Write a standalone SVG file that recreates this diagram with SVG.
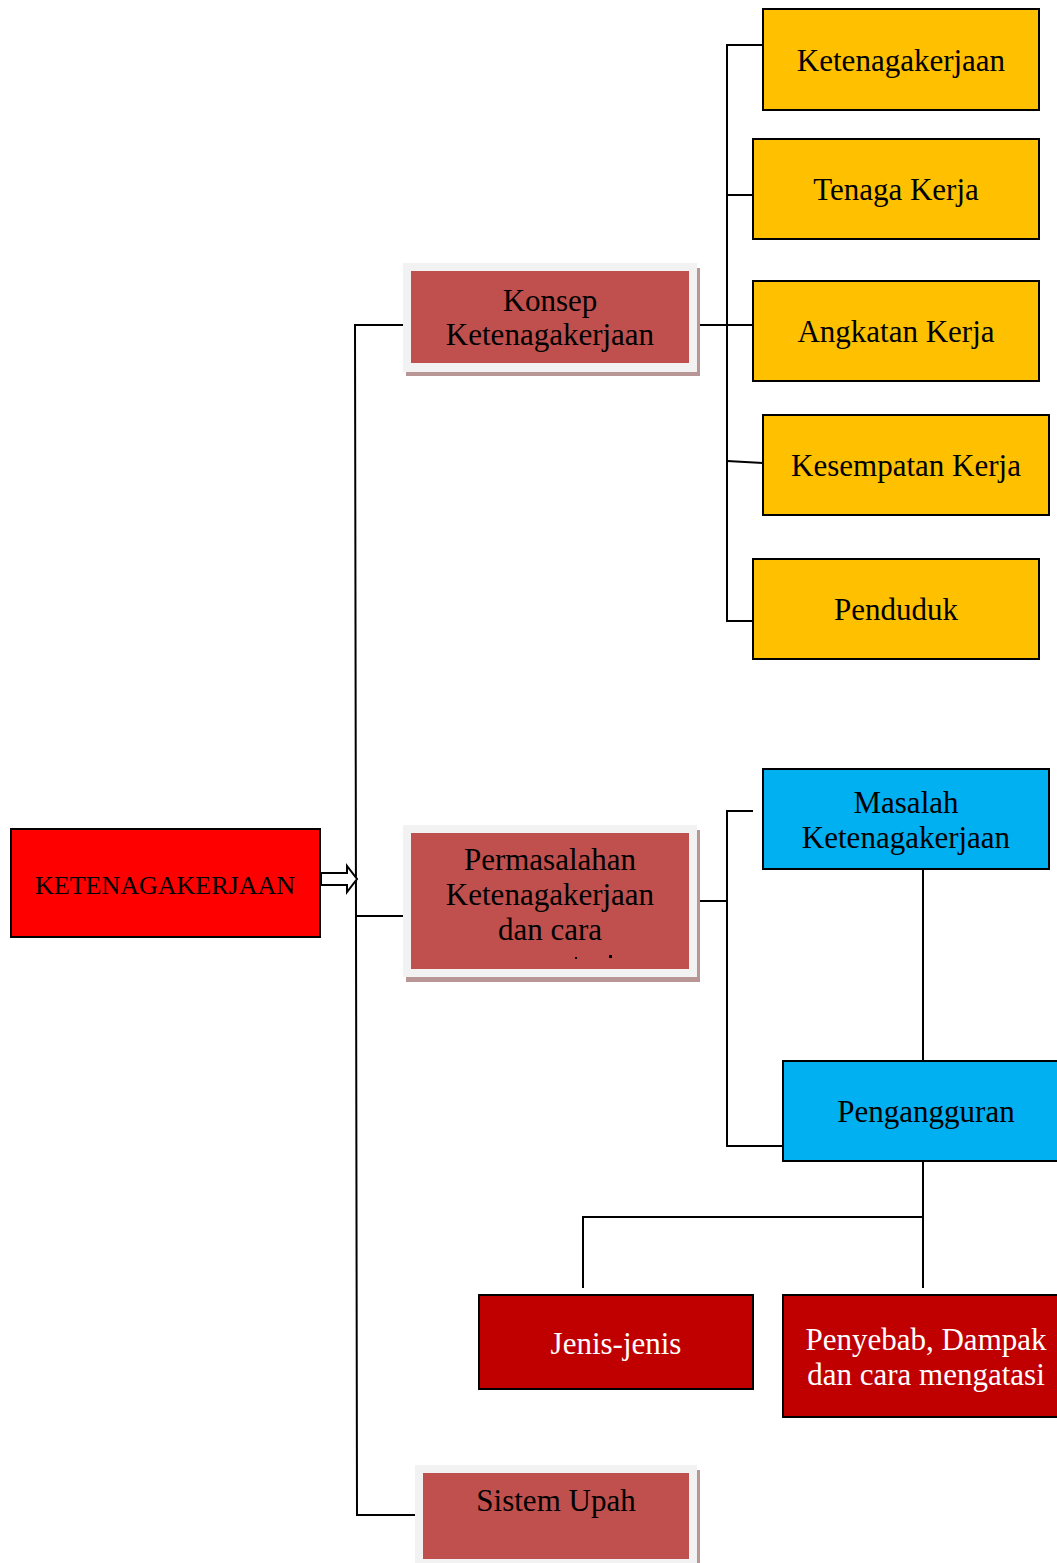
<svg xmlns="http://www.w3.org/2000/svg" width="1057" height="1563" viewBox="0 0 1057 1563">
<style>
text{font-family:"Liberation Serif","Times New Roman",serif;font-size:31px;text-anchor:middle;fill:#000}
.w{fill:#fff}
.yl{fill:#FFC000;stroke:#000;stroke-width:2}
.bl{fill:#00B0F0;stroke:#000;stroke-width:2}
.dr{fill:#C00000;stroke:#000;stroke-width:2}
.outer{fill:#F2F2F2}
.inner{fill:#C0504D}
.shadow{fill:#B89696}
.ln{fill:none;stroke:#000;stroke-width:2}
</style>
<rect width="1057" height="1563" fill="#fff"/>
<g id="connectors">
<path class="ln" d="M403,325 H355 L357,1515 H418"/>
<path class="ln" d="M357,916 H403"/>
<path class="ln" d="M697,325 H753"/>
<path class="ln" d="M763,45 H727 V621 H753"/>
<path class="ln" d="M727,195 H753"/>
<path class="ln" d="M727,461 L763,463"/>
<path class="ln" d="M693,901 H727"/>
<path class="ln" d="M753,811 H727 V1146 H783"/>
<path class="ln" d="M923,869 V1061"/>
<path class="ln" d="M923,1161 V1288"/>
<path class="ln" d="M583,1288 V1217 H923"/>
<path fill="#fff" stroke="#000" stroke-width="2" d="M321,873 H347 V866 L357,879 L347,892 V885 H321 Z"/>
</g>
<g id="n-root">
<rect x="11" y="829" width="309" height="108" fill="#FF0000" stroke="#000" stroke-width="2"/>
<text x="165" y="894" style="font-size:26px">KETENAGAKERJAAN</text>
</g>
<g id="n-konsep">
<rect class="shadow" x="406" y="268" width="294" height="108"/>
<rect class="outer" x="403" y="263" width="294" height="109"/>
<rect class="inner" x="411" y="271" width="278" height="92"/>
<text x="550" y="311">Konsep</text>
<text x="550" y="345">Ketenagakerjaan</text>
</g>
<g id="n-permasalahan">
<rect class="shadow" x="406" y="830" width="294" height="152"/>
<rect class="outer" x="403" y="825" width="294" height="152"/>
<rect class="inner" x="411" y="833" width="278" height="136"/>
<text x="550" y="870">Permasalahan</text>
<text x="550" y="905">Ketenagakerjaan</text>
<text x="550" y="940">dan cara</text>
<rect x="575" y="957" width="2" height="2" fill="#000"/>
<rect x="609" y="955" width="3" height="3" fill="#000"/>
</g>
<g id="n-upah">
<rect class="shadow" x="418" y="1470" width="282" height="93"/>
<rect class="outer" x="415" y="1465" width="282" height="98"/>
<rect class="inner" x="423" y="1473" width="266" height="86"/>
<text x="556" y="1511">Sistem Upah</text>
</g>
<g id="n-ketenagakerjaan">
<rect class="yl" x="763" y="9" width="276" height="101"/>
<text x="901" y="71">Ketenagakerjaan</text>
</g>
<g id="n-tenaga">
<rect class="yl" x="753" y="139" width="286" height="100"/>
<text x="896" y="200">Tenaga Kerja</text>
</g>
<g id="n-angkatan">
<rect class="yl" x="753" y="281" width="286" height="100"/>
<text x="896" y="342">Angkatan Kerja</text>
</g>
<g id="n-kesempatan">
<rect class="yl" x="763" y="415" width="286" height="100"/>
<text x="906" y="476">Kesempatan Kerja</text>
</g>
<g id="n-penduduk">
<rect class="yl" x="753" y="559" width="286" height="100"/>
<text x="896" y="620">Penduduk</text>
</g>
<g id="n-masalah">
<rect class="bl" x="763" y="769" width="286" height="100"/>
<text x="906" y="813">Masalah</text>
<text x="906" y="848">Ketenagakerjaan</text>
</g>
<g id="n-pengangguran">
<rect class="bl" x="783" y="1061" width="290" height="100"/>
<text x="926" y="1122">Pengangguran</text>
</g>
<g id="n-jenis">
<rect class="dr" x="479" y="1295" width="274" height="94"/>
<text class="w" x="616" y="1354">Jenis-jenis</text>
</g>
<g id="n-penyebab">
<rect class="dr" x="783" y="1295" width="290" height="122"/>
<text class="w" x="926" y="1350">Penyebab, Dampak</text>
<text class="w" x="926" y="1385">dan cara mengatasi</text>
</g>
</svg>
